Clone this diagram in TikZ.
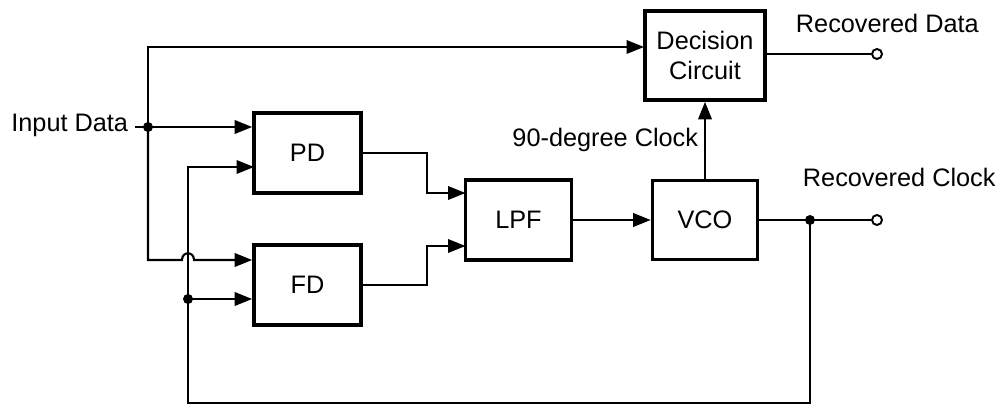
\documentclass[tikz,border=0pt]{standalone}
\usepackage{fontspec}
\setmainfont{Liberation Sans}
\usetikzlibrary{arrows.meta}

\begin{document}
\begin{tikzpicture}[
        x=0.02cm, y=-0.02cm,
        line width=1.2pt,
        font=\fontsize{14.4}{17}\selectfont,
        % Styles
        block/.style={draw, line width=2.1pt, inner sep=0pt, align=center},
        sig/.style={-{Triangle[length=3.5mm,width=2.7mm]}},
        junction/.style={circle, fill, inner sep=0pt, minimum size=0.2cm},
        terminal/.style={circle, draw, fill=white, line width=1.1pt, inner sep=0pt, minimum size=0.2cm}
    ]
    \useasboundingbox (0,0) rectangle (1004,405);

    % --- Blocks ---
    \node[block, minimum width=2.14cm, minimum height=1.6cm] (PD) at (307.5,153) {PD};
    \node[block, minimum width=2.14cm, minimum height=1.6cm] (FD) at (307.5,285) {FD};
    \node[block, minimum width=2.12cm, minimum height=1.6cm] (LPF) at (518.5,220) {LPF};
    \node[block, minimum width=2.1cm, minimum height=1.58cm] (VCO) at (705,220) {VCO};
    \node[block, minimum width=2.4cm, minimum height=1.78cm] (DC) at (705,55.5) {Decision\\Circuit};

    % --- Terminals and labels ---
    \node[terminal] (dout) at (877,54) {};
    \node[terminal] (cout) at (877,220) {};
    \node[anchor=base east] (indata) at (135,132) {Input Data};
    \node[anchor=base west] (rdata) at (789,33) {Recovered Data};
    \node[anchor=base west] (rclock) at (796,187) {Recovered Clock};
    \node[anchor=base east] (ninety) at (705,147) {90-degree Clock};

    % --- Coordinates ---
    \coordinate (split) at (148,127);   % input data branch
    \coordinate (dcin) at (644,47);     % data into decision circuit
    \coordinate (hopL) at (182,260);
    \coordinate (hopR) at (194,260);
    \coordinate (clk) at (810,220);     % clock branch
    \coordinate (fbR) at (810,403);
    \coordinate (fbL) at (188,403);
    \coordinate (fdsplit) at (188,299); % clock into FD
    \coordinate (pdin) at (254,167);    % clock into PD
    \coordinate (pdmid) at (427,173);
    \coordinate (fdmid) at (427,265);
    \coordinate (lpfin1) at (465.5,193);
    \coordinate (lpfin2) at (465.5,246);

    % --- Data path ---
    \draw (indata.east |- split) -- (split);
    \draw[sig] (split) -- (PD.west |- split);
    \draw[sig] (split) |- (dcin);
    \draw[sig] (split) |- (hopL) .. controls (182,251) and (194,251) .. (hopR) -- (FD.west |- hopR);
    \draw (DC.east |- dout) -- (dout);

    % --- Loop ---
    \draw[sig] (PD.east) -| (pdmid) |- (lpfin1);
    \draw[sig] (FD.east) -| (fdmid) |- (lpfin2);
    \draw[sig] (LPF) -- (VCO);
    \draw[sig] (VCO) -- (DC);
    \draw (VCO.east) -- (cout);
    \draw (clk) -- (fbR) -- (fbL) -- (fdsplit);
    \draw[sig] (fdsplit) |- (pdin);
    \draw[sig] (fdsplit) -- (FD.west |- fdsplit);

    % --- Junctions ---
    \node[junction] at (split) {};
    \node[junction] at (clk) {};
    \node[junction] at (fdsplit) {};

\end{tikzpicture}
\end{document}
